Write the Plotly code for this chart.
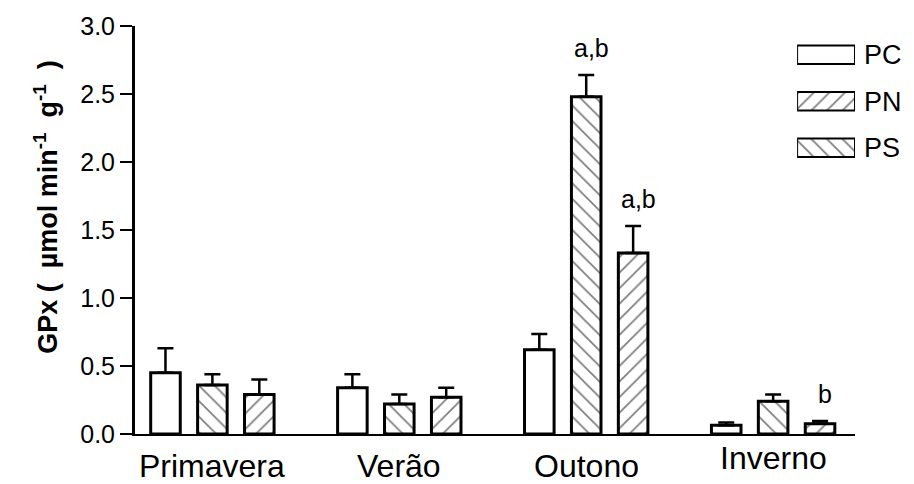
import plotly.graph_objects as go

# GPx activity by season and group (mean + SEM)
categories = ["Primavera", "Verão", "Outono", "Inverno"]
series_names = ["PC", "PN", "PS"]

pc_mean = [0.45, 0.34, 0.62, 0.065]
pc_sem = [0.18, 0.10, 0.115, 0.02]
pn_mean = [0.36, 0.22, 2.48, 0.24]
pn_sem = [0.08, 0.07, 0.16, 0.05]
ps_mean = [0.29, 0.27, 1.33, 0.075]
ps_sem = [0.11, 0.07, 0.20, 0.02]

bar_patterns = ["", "\\", "/"]
legend_patterns = ["", "/", "\\"]
legend_swatch = [1, 1, 1]

sig_category = ["Outono", "Outono", "Inverno"]
sig_series = ["PN", "PS", "PS"]
sig_text = ["a,b", "a,b", "b"]

y_ticks = [0.0, 0.5, 1.0, 1.5, 2.0, 2.5, 3.0]

FONT = "Liberation Sans, Arial, sans-serif"
BARGAP = 0.247
BARGROUPGAP = 0.37
HATCH = dict(fgcolor="black", bgcolor="white", size=11, solidity=0.16)

means = [pc_mean, pn_mean, ps_mean]
sems = [pc_sem, pn_sem, ps_sem]

fig = go.Figure()

for name, m, s, pat in zip(series_names, means, sems, bar_patterns):
    fig.add_trace(go.Bar(
        x=categories, y=m, name=name, showlegend=False,
        marker=dict(color="white",
                    line=dict(color="black", width=3),
                    pattern=dict(shape=pat, **HATCH)),
        error_y=dict(type="data", array=s, arrayminus=[0] * len(s),
                     symmetric=False, color="black", thickness=2.5, width=8),
    ))

# legend drawn as horizontal swatches on a small inset axis
fig.add_trace(go.Bar(
    y=series_names, x=legend_swatch, orientation="h",
    xaxis="x2", yaxis="y2", width=0.4, showlegend=False, hoverinfo="skip",
    marker=dict(color="white", line=dict(color="black", width=2),
                pattern=dict(shape=legend_patterns, **HATCH)),
))

slot = (1 - BARGAP) / len(series_names)
annotations = []
for cat, ser, txt in zip(sig_category, sig_series, sig_text):
    ci = categories.index(cat)
    si = series_names.index(ser)
    top = means[si][ci] + sems[si][ci]
    annotations.append(dict(
        x=ci + (si - 1) * slot, y=top, xref="x", yref="y",
        text=txt, showarrow=False, xanchor="center", yanchor="bottom",
        xshift=5, yshift=11, font=dict(family=FONT, size=25, color="black"),
    ))

label_shift = [-12, -12, -12, -4]
for i, (cat, sh) in enumerate(zip(categories, label_shift)):
    annotations.append(dict(
        x=i, y=0, xref="x", yref="y", text=cat, showarrow=False,
        xanchor="center", yanchor="top", yshift=sh,
        font=dict(family=FONT, size=32, color="black"),
    ))

annotations.append(dict(
    x=-0.124, y=0.556, xref="paper", yref="paper",
    text="<b>GPx (  µmol min<sup>-1</sup>  g<sup>-1</sup>  )</b>",
    textangle=-90, showarrow=False, xanchor="center", yanchor="middle",
    font=dict(family=FONT, size=27, color="black"),
))

fig.update_layout(
    width=914, height=484,
    margin=dict(l=135, r=58, t=22, b=50),
    paper_bgcolor="white", plot_bgcolor="white",
    barmode="group", bargap=BARGAP, bargroupgap=BARGROUPGAP,
    font=dict(family=FONT, color="black"),
    annotations=annotations,
    xaxis=dict(range=[-0.414, 3.438], showline=True, linecolor="black",
               linewidth=2, ticks="", showticklabels=False,
               showgrid=False, zeroline=False, fixedrange=True),
    yaxis=dict(range=[0, 3.0], tickvals=y_ticks, tickformat=".1f",
               showline=True, linecolor="black", linewidth=3,
               ticks="outside", ticklen=12, tickwidth=2, tickcolor="black",
               tickfont=dict(family=FONT, size=25, color="black"),
               showgrid=False, zeroline=False),
    xaxis2=dict(domain=[0.9196, 1.0], range=[0, 1], anchor="y2",
                visible=False, fixedrange=True),
    yaxis2=dict(domain=[0.6448, 0.9867], anchor="x2", type="category",
                range=[2.5, -0.5], side="right", showline=False,
                ticks="", showgrid=False, zeroline=False,
                ticklabelstandoff=8,
                tickfont=dict(family=FONT, size=27, color="black")),
)

fig.write_html("out.html")
